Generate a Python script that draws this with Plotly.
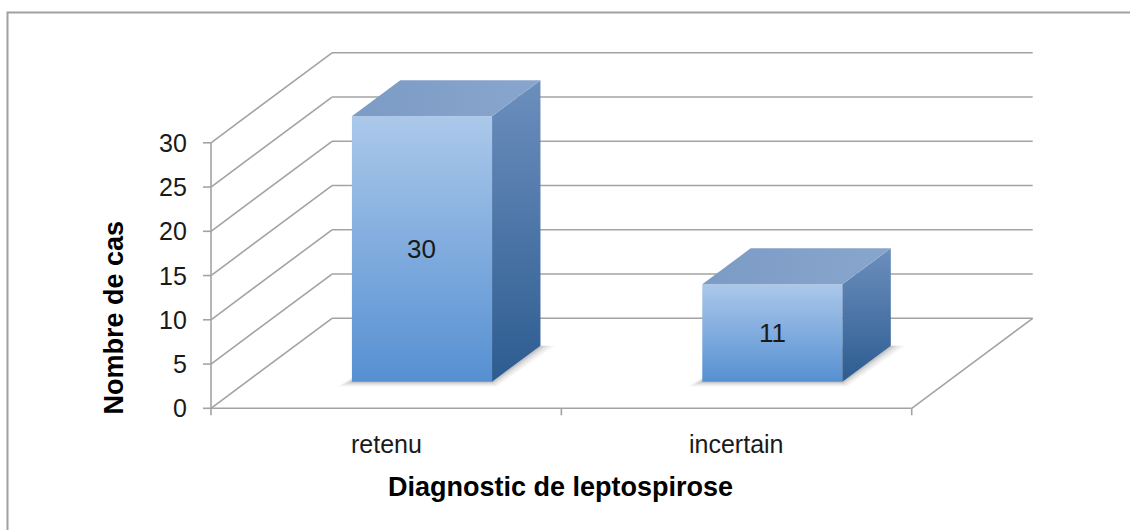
import plotly.graph_objects as go

# ---- data -------------------------------------------------------------
categories = ["retenu", "incertain"]
cases = [30, 11]
value_ticks = [0, 5, 10, 15, 20, 25, 30]
y_title = "Nombre de cas"
x_title = "Diagnostic de leptospirose"

# ---- frame geometry ---------------------------------------------------
W, H = 1130, 530
X0_PX, CAT_PX = 211.0, 350.35      # pixel of category edge 0, pixels per category
Y0_PX, VAL_PX = 408.3, 8.85        # pixel (from top) of value 0, pixels per unit
DEPTH_X = 121.0 / CAT_PX           # oblique offset of the back wall (data units)
DEPTH_Y = 90.0 / VAL_PX
BAR_W = 0.40                       # bar width in category units
BAR_D0, BAR_D1 = 0.296, 0.696      # bar front / back depth (0 = front, 1 = back)
VMAX = value_ticks[-1]
NCAT = len(categories)

FONT = "Liberation Sans, Arial, sans-serif"
GRID = "#a3a3a3"


def proj(x, v, d):
    """Oblique projection of (category x, value v, depth d) onto the page axes."""
    return x + d * DEPTH_X, v + d * DEPTH_Y


def px_x(p):
    return p / CAT_PX


def px_v(p):
    return p / VAL_PX


fig = go.Figure()

# ---- walls, floor and axis lines -------------------------------------
gx, gy = [], []


def seg(a, b):
    gx.extend([a[0], b[0], None])
    gy.extend([a[1], b[1], None])


seg(proj(0, 0, 0), proj(0, VMAX, 0))                 # value axis
for v in value_ticks:
    seg(proj(0, v, 0), proj(0, v, 1))                # side wall diagonal
    seg(proj(0, v, 1), proj(NCAT, v, 1))             # back wall gridline
    seg((-px_x(8), v), proj(0, v, 0))                # tick mark
seg(proj(0, 0, 0), proj(NCAT, 0, 0))                 # floor front edge
seg(proj(NCAT, 0, 0), proj(NCAT, 0, 1))              # floor right edge
for k in range(NCAT + 1):
    seg((k, 0), (k, -px_v(7)))                       # category tick marks

fig.add_trace(go.Scatter(x=gx, y=gy, mode="lines",
                         line=dict(color=GRID, width=1.6),
                         hoverinfo="skip", showlegend=False))

# ---- bars -------------------------------------------------------------
for i, (cat, val) in enumerate(zip(categories, cases)):
    c = i + 0.5
    L, R = c - BAR_W / 2, c + BAR_W / 2

    # soft floor shadow
    for e, op in [(14, 0.05), (10, 0.06), (6, 0.08), (3, 0.10)]:
        ex, ev = px_x(e), px_v(e * 0.35)
        pts = [proj(L - ex, -ev, BAR_D0), proj(R + ex * 0.3, -ev, BAR_D0),
               proj(R + ex, 0, BAR_D1), proj(L, 0, BAR_D1)]
        fig.add_trace(go.Scatter(
            x=[p[0] for p in pts] + [pts[0][0]],
            y=[p[1] for p in pts] + [pts[0][1]],
            mode="lines", fill="toself", line=dict(width=0),
            fillcolor=f"rgba(40,40,40,{op})",
            hoverinfo="skip", showlegend=False))

    # front face
    f = [proj(L, 0, BAR_D0), proj(R, 0, BAR_D0), proj(R, val, BAR_D0), proj(L, val, BAR_D0)]
    fig.add_trace(go.Scatter(
        x=[p[0] for p in f] + [f[0][0]], y=[p[1] for p in f] + [f[0][1]],
        mode="lines", fill="toself", line=dict(width=0),
        fillgradient=dict(type="vertical",
                          colorscale=[[0, "#5690d2"], [1, "#abc8ea"]]),
        hoverinfo="skip", showlegend=False))

    # side face
    s = [proj(R, 0, BAR_D0), proj(R, 0, BAR_D1), proj(R, val, BAR_D1), proj(R, val, BAR_D0)]
    fig.add_trace(go.Scatter(
        x=[p[0] for p in s] + [s[0][0]], y=[p[1] for p in s] + [s[0][1]],
        mode="lines", fill="toself", line=dict(width=0),
        fillgradient=dict(type="vertical",
                          colorscale=[[0, "#2d5c91"], [1, "#6c8fbd"]]),
        hoverinfo="skip", showlegend=False))

    # top face
    t = [proj(L, val, BAR_D0), proj(R, val, BAR_D0), proj(R, val, BAR_D1), proj(L, val, BAR_D1)]
    fig.add_trace(go.Scatter(
        x=[p[0] for p in t] + [t[0][0]], y=[p[1] for p in t] + [t[0][1]],
        mode="lines", fill="toself", line=dict(width=0),
        fillgradient=dict(type="horizontal",
                          colorscale=[[0, "#7c9bc5"], [1, "#88a6cd"]]),
        hoverinfo="skip", showlegend=False))

    # value label on the front face
    lx, ly = proj(c, val / 2, BAR_D0)
    fig.add_annotation(x=lx, y=ly, text=str(val), showarrow=False,
                       font=dict(family=FONT, size=26, color="#1a1a1a"),
                       xanchor="center", yanchor="middle")

    # category label
    fig.add_annotation(x=c, y=-px_v(36), text=cat, showarrow=False,
                       font=dict(family=FONT, size=25, color="#1a1a1a"),
                       xanchor="center", yanchor="middle")

# ---- value tick labels -----------------------------------------------
for v in value_ticks:
    fig.add_annotation(x=-px_x(22), y=v, text=str(v), showarrow=False,
                       font=dict(family=FONT, size=25, color="#1a1a1a"),
                       xanchor="right", yanchor="middle")

# ---- axis titles -------------------------------------------------------
fig.add_annotation(x=113 / W, y=1 - 317.5 / H, xref="paper", yref="paper",
                   text=f"<b>{y_title}</b>", textangle=-90, showarrow=False,
                   font=dict(family=FONT, size=27, color="#000000"),
                   xanchor="center", yanchor="middle")
fig.add_annotation(x=560 / W, y=1 - 487 / H, xref="paper", yref="paper",
                   text=f"<b>{x_title}</b>", showarrow=False,
                   font=dict(family=FONT, size=27, color="#000000"),
                   xanchor="center", yanchor="middle")

# ---- outer chart border (top and left edges visible) -------------------
fig.add_shape(type="rect", xref="paper", yref="paper",
              x0=7.5 / W, x1=1.02, y0=-0.02, y1=1 - 12.5 / H,
              line=dict(color="#a0a0a0", width=2))

fig.update_layout(
    width=W, height=H,
    margin=dict(l=0, r=0, t=0, b=0),
    paper_bgcolor="white", plot_bgcolor="white",
    xaxis=dict(visible=False, range=[-X0_PX / CAT_PX, (W - X0_PX) / CAT_PX],
               fixedrange=True),
    yaxis=dict(visible=False, range=[(Y0_PX - H) / VAL_PX, Y0_PX / VAL_PX],
               fixedrange=True),
    showlegend=False,
)

fig.write_html("out.html")
